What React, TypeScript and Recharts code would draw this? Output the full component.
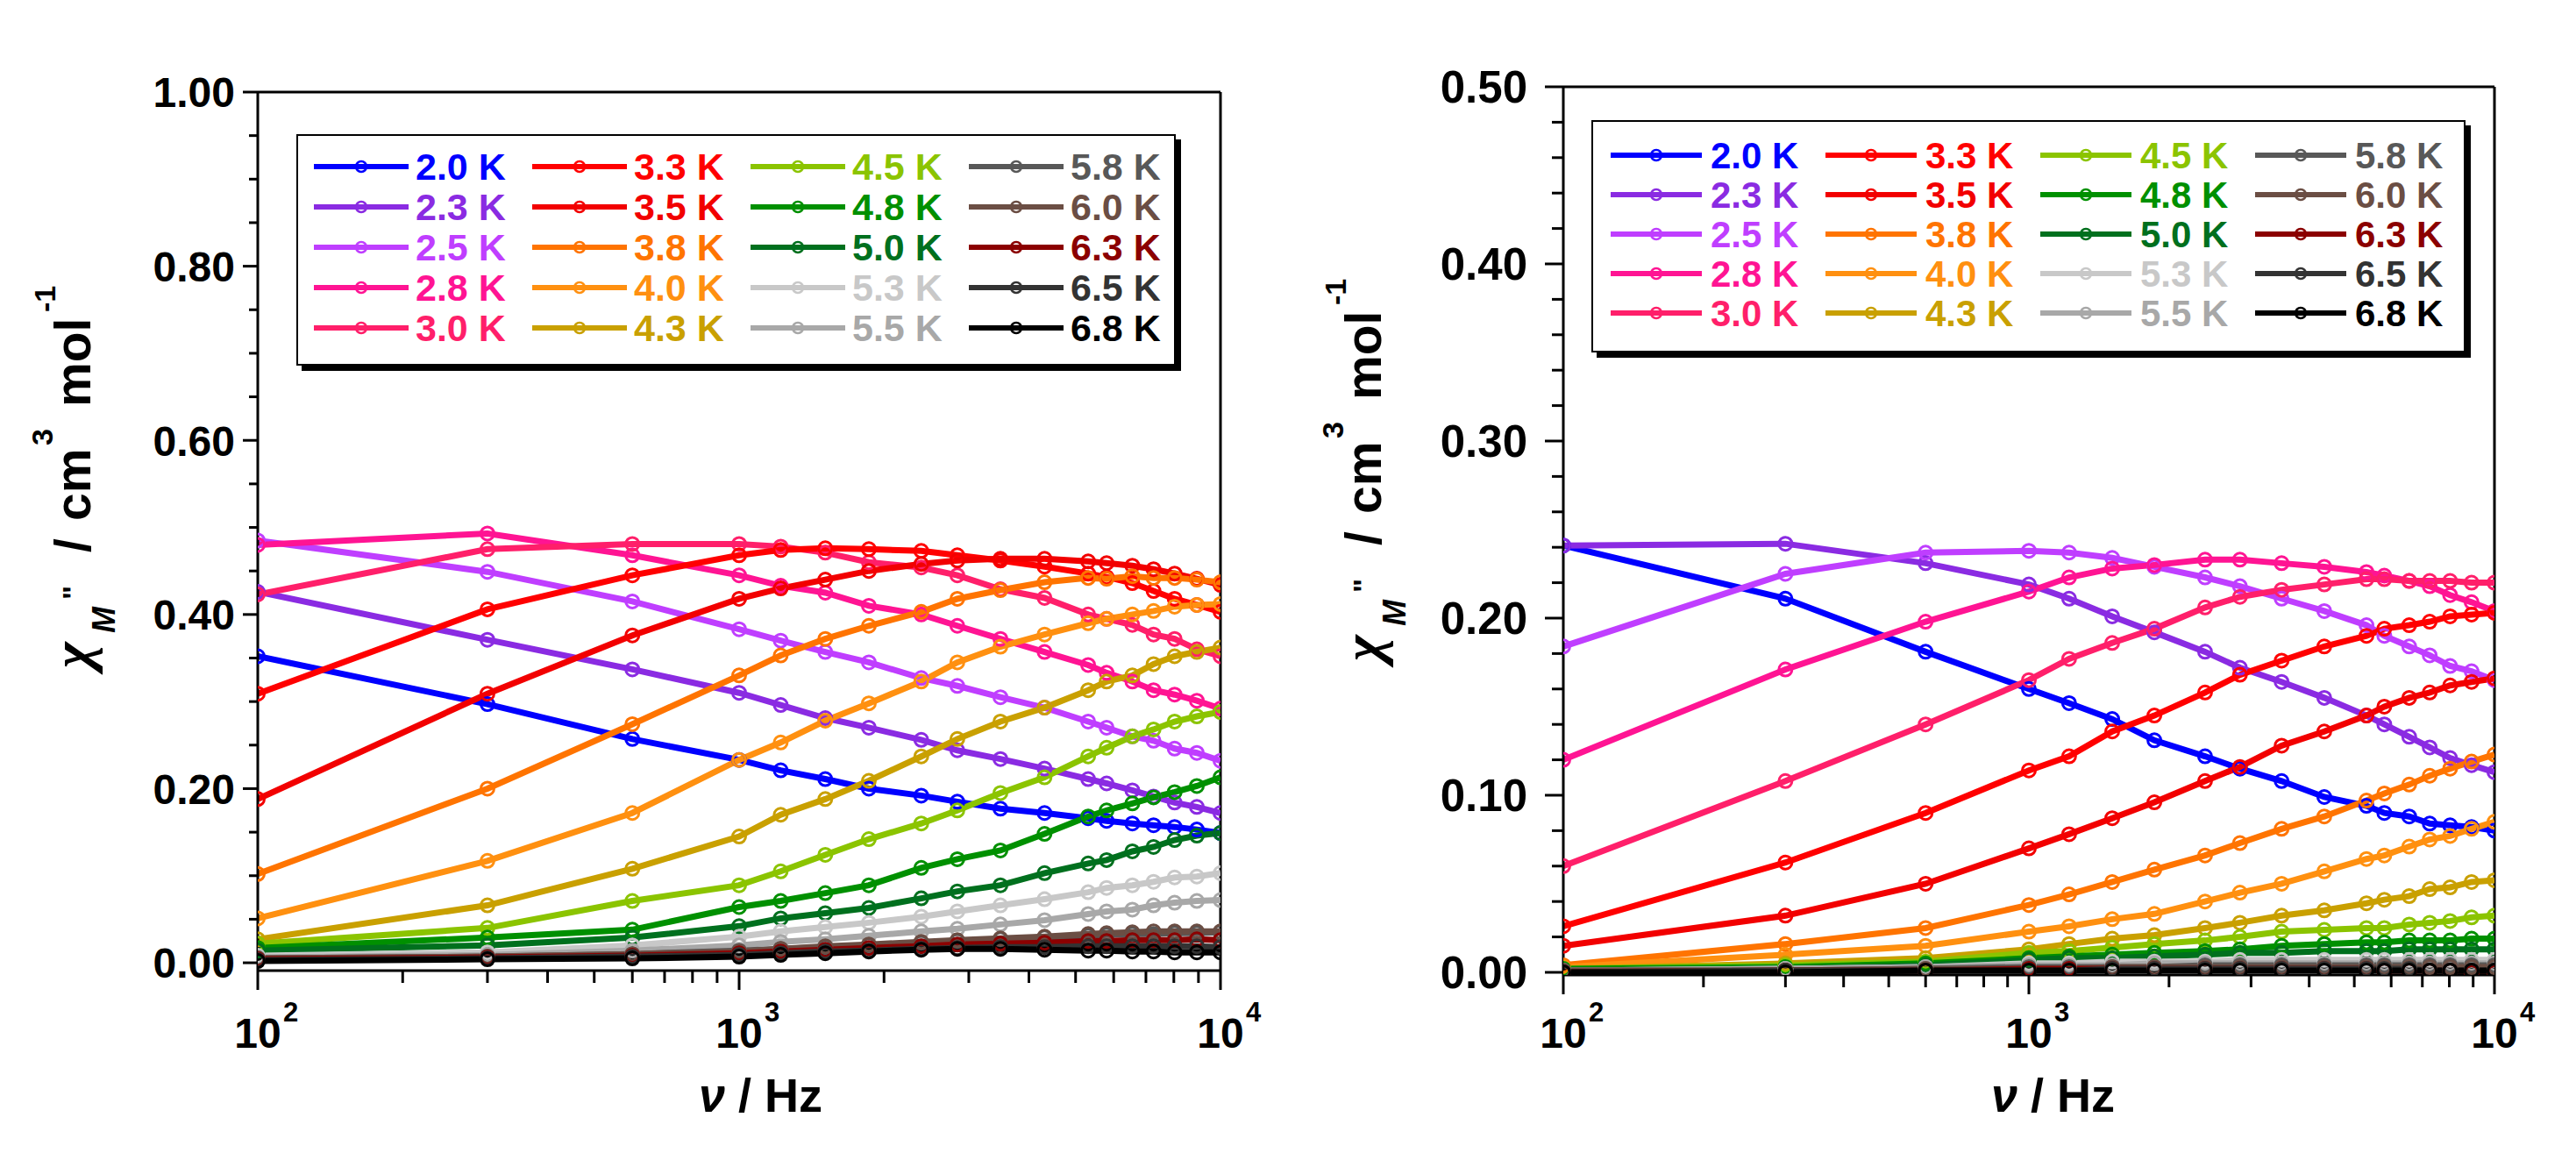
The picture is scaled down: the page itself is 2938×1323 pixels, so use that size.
import React from "react";
import { LineChart, Line, XAxis, YAxis, Legend, ReferenceLine } from "recharts";

// ac frequencies (Hz)
const FREQ = [100, 300, 600, 1000, 1220, 1510, 1860, 2390, 2840, 3490, 4310, 5310, 5800, 6560, 7260, 8030, 8930, 10000];

const TEMPS = [
  "2.0 K", "2.3 K", "2.5 K", "2.8 K", "3.0 K",
  "3.3 K", "3.5 K", "3.8 K", "4.0 K", "4.3 K",
  "4.5 K", "4.8 K", "5.0 K", "5.3 K", "5.5 K",
  "5.8 K", "6.0 K", "6.3 K", "6.5 K", "6.8 K",
];

const COLORS = [
  "#0000ff", "#8a2be2", "#bf3eff", "#ff1493", "#ff1f6a",
  "#ff0000", "#f20000", "#ff7400", "#ff9010", "#c9a000",
  "#8bc400", "#009000", "#00701e", "#c8c8c8", "#a8a8a8",
  "#585858", "#6b4e44", "#8b0000", "#333333", "#000000",
];

// left panel, chi'' (cm3 mol-1)
const L20 = [0.352, 0.297, 0.257, 0.233, 0.221, 0.211, 0.200, 0.192, 0.185, 0.177, 0.172, 0.166, 0.163, 0.160, 0.158, 0.156, 0.153, 0.149];
const L23 = [0.426, 0.371, 0.337, 0.310, 0.296, 0.281, 0.270, 0.256, 0.244, 0.234, 0.223, 0.211, 0.206, 0.198, 0.191, 0.184, 0.179, 0.172];
const L25 = [0.485, 0.449, 0.415, 0.383, 0.370, 0.357, 0.345, 0.327, 0.318, 0.305, 0.293, 0.277, 0.270, 0.260, 0.255, 0.246, 0.241, 0.232];
const L28 = [0.480, 0.493, 0.468, 0.445, 0.433, 0.425, 0.410, 0.400, 0.387, 0.372, 0.357, 0.342, 0.333, 0.323, 0.313, 0.308, 0.301, 0.292];
const L30 = [0.423, 0.475, 0.481, 0.481, 0.478, 0.471, 0.460, 0.454, 0.445, 0.429, 0.419, 0.400, 0.395, 0.388, 0.377, 0.372, 0.360, 0.352];
const L33 = [0.309, 0.406, 0.445, 0.468, 0.474, 0.476, 0.475, 0.473, 0.468, 0.462, 0.455, 0.447, 0.443, 0.436, 0.427, 0.418, 0.411, 0.403];
const L35 = [0.188, 0.309, 0.376, 0.418, 0.430, 0.440, 0.450, 0.458, 0.462, 0.464, 0.464, 0.461, 0.459, 0.456, 0.452, 0.447, 0.441, 0.434];
const L38 = [0.102, 0.200, 0.274, 0.330, 0.353, 0.372, 0.387, 0.403, 0.418, 0.428, 0.437, 0.442, 0.441, 0.444, 0.442, 0.442, 0.440, 0.437];
const L40 = [0.051, 0.117, 0.172, 0.233, 0.253, 0.278, 0.298, 0.323, 0.345, 0.363, 0.377, 0.390, 0.395, 0.400, 0.404, 0.409, 0.411, 0.412];
const L43 = [0.027, 0.066, 0.108, 0.145, 0.170, 0.188, 0.209, 0.237, 0.257, 0.277, 0.293, 0.313, 0.323, 0.330, 0.343, 0.352, 0.357, 0.362];
const L45 = [0.022, 0.040, 0.071, 0.089, 0.105, 0.124, 0.142, 0.160, 0.175, 0.195, 0.213, 0.237, 0.247, 0.260, 0.268, 0.277, 0.283, 0.288];
const L48 = [0.017, 0.029, 0.038, 0.064, 0.071, 0.080, 0.089, 0.109, 0.119, 0.129, 0.148, 0.168, 0.175, 0.183, 0.190, 0.196, 0.203, 0.213];
const L50 = [0.014, 0.020, 0.029, 0.042, 0.051, 0.057, 0.063, 0.074, 0.082, 0.089, 0.103, 0.114, 0.118, 0.128, 0.133, 0.141, 0.146, 0.149];
const L53 = [0.008, 0.012, 0.020, 0.030, 0.036, 0.041, 0.046, 0.053, 0.059, 0.066, 0.073, 0.081, 0.086, 0.089, 0.093, 0.098, 0.099, 0.103];
const L55 = [0.006, 0.009, 0.014, 0.020, 0.024, 0.027, 0.031, 0.036, 0.039, 0.044, 0.049, 0.056, 0.059, 0.061, 0.066, 0.069, 0.071, 0.072];
const L58 = [0.005, 0.007, 0.010, 0.014, 0.016, 0.018, 0.020, 0.023, 0.025, 0.027, 0.029, 0.031, 0.032, 0.033, 0.033, 0.034, 0.034, 0.035];
const L60 = [0.005, 0.007, 0.010, 0.013, 0.016, 0.019, 0.021, 0.024, 0.026, 0.028, 0.030, 0.033, 0.034, 0.035, 0.036, 0.036, 0.036, 0.036];
const L63 = [0.004, 0.006, 0.008, 0.011, 0.013, 0.015, 0.017, 0.019, 0.021, 0.022, 0.023, 0.025, 0.025, 0.026, 0.026, 0.026, 0.027, 0.026];
const L65 = [0.003, 0.005, 0.007, 0.009, 0.011, 0.013, 0.014, 0.016, 0.017, 0.018, 0.018, 0.019, 0.019, 0.019, 0.019, 0.019, 0.019, 0.018];
const L68 = [0.002, 0.004, 0.005, 0.007, 0.009, 0.011, 0.013, 0.015, 0.016, 0.016, 0.015, 0.014, 0.014, 0.013, 0.013, 0.012, 0.012, 0.012];

// right panel
const R20 = [0.241, 0.211, 0.181, 0.160, 0.152, 0.143, 0.131, 0.122, 0.115, 0.108, 0.099, 0.094, 0.090, 0.088, 0.084, 0.083, 0.082, 0.080];
const R23 = [0.241, 0.242, 0.231, 0.219, 0.211, 0.201, 0.192, 0.181, 0.172, 0.164, 0.155, 0.145, 0.140, 0.133, 0.127, 0.121, 0.117, 0.113];
const R25 = [0.184, 0.225, 0.237, 0.238, 0.237, 0.234, 0.229, 0.223, 0.218, 0.211, 0.204, 0.196, 0.190, 0.184, 0.179, 0.173, 0.170, 0.165];
const R28 = [0.120, 0.171, 0.198, 0.215, 0.223, 0.228, 0.230, 0.233, 0.233, 0.231, 0.229, 0.226, 0.224, 0.221, 0.218, 0.213, 0.209, 0.204];
const R30 = [0.060, 0.108, 0.140, 0.165, 0.177, 0.186, 0.194, 0.206, 0.212, 0.216, 0.219, 0.222, 0.222, 0.221, 0.221, 0.221, 0.220, 0.220];
const R33 = [0.026, 0.062, 0.090, 0.114, 0.122, 0.136, 0.145, 0.158, 0.168, 0.176, 0.184, 0.190, 0.194, 0.196, 0.198, 0.201, 0.202, 0.203];
const R35 = [0.015, 0.032, 0.050, 0.070, 0.078, 0.087, 0.096, 0.108, 0.116, 0.128, 0.136, 0.145, 0.150, 0.155, 0.158, 0.162, 0.164, 0.166];
const R38 = [0.004, 0.016, 0.025, 0.038, 0.044, 0.051, 0.058, 0.066, 0.073, 0.081, 0.088, 0.097, 0.101, 0.106, 0.111, 0.115, 0.119, 0.123];
const R40 = [0.003, 0.010, 0.015, 0.023, 0.026, 0.030, 0.033, 0.040, 0.045, 0.050, 0.057, 0.064, 0.066, 0.071, 0.075, 0.077, 0.081, 0.085];
const R43 = [0.002, 0.005, 0.008, 0.013, 0.016, 0.019, 0.021, 0.025, 0.028, 0.032, 0.035, 0.039, 0.041, 0.043, 0.047, 0.048, 0.051, 0.052];
const R45 = [0.002, 0.004, 0.006, 0.011, 0.012, 0.014, 0.016, 0.018, 0.020, 0.023, 0.024, 0.025, 0.025, 0.027, 0.028, 0.029, 0.031, 0.032];
const R48 = [0.002, 0.003, 0.005, 0.008, 0.009, 0.010, 0.011, 0.012, 0.013, 0.015, 0.016, 0.017, 0.017, 0.018, 0.018, 0.018, 0.019, 0.019];
const R50 = [0.001, 0.002, 0.004, 0.007, 0.008, 0.008, 0.009, 0.010, 0.011, 0.011, 0.012, 0.012, 0.012, 0.013, 0.013, 0.013, 0.013, 0.013];
const R53 = [0.001, 0.002, 0.003, 0.005, 0.005, 0.006, 0.006, 0.006, 0.007, 0.007, 0.007, 0.007, 0.007, 0.007, 0.007, 0.007, 0.007, 0.007];
const R55 = [0.001, 0.002, 0.003, 0.004, 0.004, 0.004, 0.005, 0.005, 0.005, 0.005, 0.005, 0.005, 0.005, 0.005, 0.005, 0.005, 0.005, 0.005];
const R58 = [0.001, 0.001, 0.002, 0.003, 0.003, 0.003, 0.003, 0.004, 0.004, 0.004, 0.004, 0.004, 0.004, 0.004, 0.004, 0.004, 0.004, 0.004];
const R60 = [0.001, 0.001, 0.002, 0.002, 0.002, 0.003, 0.003, 0.003, 0.003, 0.003, 0.003, 0.003, 0.003, 0.003, 0.003, 0.003, 0.003, 0.003];
const R63 = [0.000, 0.001, 0.001, 0.002, 0.002, 0.002, 0.002, 0.002, 0.002, 0.002, 0.002, 0.002, 0.001, 0.001, 0.001, 0.001, 0.000, 0.000];
const R65 = [0.000, 0.001, 0.001, 0.001, 0.001, 0.002, 0.002, 0.002, 0.002, 0.002, 0.002, 0.002, 0.002, 0.002, 0.001, 0.001, 0.001, 0.001];
const R68 = [0.000, 0.000, 0.001, 0.001, 0.001, 0.001, 0.001, 0.001, 0.001, 0.001, 0.001, 0.001, 0.001, 0.001, 0.001, 0.001, 0.001, 0.001];

const LEFT = [L20, L23, L25, L28, L30, L33, L35, L38, L40, L43, L45, L48, L50, L53, L55, L58, L60, L63, L65, L68];
const RIGHT = [R20, R23, R25, R28, R30, R33, R35, R38, R40, R43, R45, R48, R50, R53, R55, R58, R60, R63, R65, R68];

// axis ticks
const X_TICKS = [100, 200, 300, 400, 500, 600, 700, 800, 900, 1000, 2000, 3000, 4000, 5000, 6000, 7000, 8000, 9000, 10000];
const X_MAJOR = [100, 1000, 10000];
const LEFT_Y_MAJOR = [0, 0.2, 0.4, 0.6, 0.8, 1.0];
const LEFT_Y_TICKS = [0, 0.05, 0.1, 0.15, 0.2, 0.25, 0.3, 0.35, 0.4, 0.45, 0.5, 0.55, 0.6, 0.65, 0.7, 0.75, 0.8, 0.85, 0.9, 0.95, 1.0];
const RIGHT_Y_MAJOR = [0, 0.1, 0.2, 0.3, 0.4, 0.5];
const RIGHT_Y_TICKS = [0, 0.02, 0.04, 0.06, 0.08, 0.1, 0.12, 0.14, 0.16, 0.18, 0.2, 0.22, 0.24, 0.26, 0.28, 0.3, 0.32, 0.34, 0.36, 0.38, 0.4, 0.42, 0.44, 0.46, 0.48, 0.5];

const FONT = "'Liberation Sans', Arial, Helvetica, sans-serif";

const near = (list: number[], v: number) => list.some((m) => Math.abs(m - v) < 1e-6);

const makeYTick = (major: number[], big: number, small: number, gap: number, fs: number) => (props: any) => {
  const { x, y, payload } = props;
  const v = payload.value;
  const isMajor = near(major, v);
  return (
    <g>
      <line x1={x} x2={x - (isMajor ? big : small)} y1={y} y2={y} stroke="#000" strokeWidth={3} />
      {isMajor && (
        <text x={x - gap} y={y} dy="0.36em" textAnchor="end" fontFamily={FONT} fontWeight="bold" fontSize={fs} fill="#000">
          {v.toFixed(2)}
        </text>
      )}
    </g>
  );
};

const makeXTick = (labelDy: number) => (props: any) => {
  const { x, y, payload } = props;
  const v = payload.value;
  const isMajor = near(X_MAJOR, v);
  const exp = Math.round(Math.log10(v));
  return (
    <g>
      <line x1={x} x2={x} y1={y} y2={y + (isMajor ? 22 : 14)} stroke="#000" strokeWidth={3} />
      {isMajor && (
        <g fontFamily={FONT} fontWeight="bold" fill="#000">
          <text x={x} y={y + labelDy} textAnchor="middle" fontSize={48}>10</text>
          <text x={x + 29} y={y + labelDy - 30} textAnchor="start" fontSize={31}>{exp}</text>
        </g>
      )}
    </g>
  );
};

const makeYTitle = (bx: number, shift: number) => () => (
  <text transform="rotate(-90)" fontFamily={FONT} fontWeight="bold" fill="#000">
    <tspan x={-(762 + shift)} y={bx} fontFamily="'Liberation Serif', 'DejaVu Serif', serif" fontStyle="italic" fontSize={64}>χ</tspan>
    <tspan x={-(722 + shift)} y={bx + 28} fontStyle="italic" fontSize={36}>M</tspan>
    <tspan x={-(684 + shift)} y={bx - 8} fontSize={34}>"</tspan>
    <tspan x={-(630 + shift)} y={bx} fontSize={57}>/</tspan>
    <tspan x={-(594 + shift)} y={bx} fontSize={57}>cm</tspan>
    <tspan x={-(508 + shift)} y={bx - 43} fontSize={34}>3</tspan>
    <tspan x={-(464 + shift)} y={bx} fontSize={57}>mol</tspan>
    <tspan x={-(356 + shift)} y={bx - 40} fontSize={34}>-1</tspan>
  </text>
);

const makeXTitle = (sx: number) => () => (
  <text x={sx} y={1268} fontFamily={FONT} fontWeight="bold" fontSize={54} fill="#000">
    <tspan fontStyle="italic">ν</tspan>
    <tspan> / Hz</tspan>
  </text>
);

type LegendCfg = { w: number; h: number; x0: number; y0: number; dx: number; dy: number; len: number; tx: number; fs: number };

const makeLegend = (c: LegendCfg) => () => (
  <svg width={c.w + 8} height={c.h + 8} style={{ display: "block" }}>
    <rect x={6} y={6} width={c.w} height={c.h} fill="#000" />
    <rect x={1} y={1} width={c.w - 2} height={c.h - 2} fill="#fff" stroke="#000" strokeWidth={2} />
    {TEMPS.map((t, i) => {
      const col = Math.floor(i / 5);
      const row = i % 5;
      const lx = c.x0 + col * c.dx;
      const cy = c.y0 + row * c.dy;
      return (
        <g key={t}>
          <line x1={lx} x2={lx + c.len} y1={cy} y2={cy} stroke={COLORS[i]} strokeWidth={6} />
          <circle cx={lx + c.len / 2} cy={cy} r={6} fill="none" stroke={COLORS[i]} strokeWidth={2.5} />
          <text x={lx + c.tx} y={cy} dy="0.36em" fontFamily={FONT} fontWeight="bold" fontSize={c.fs} fill={COLORS[i]}>
            {t}
          </text>
        </g>
      );
    })}
  </svg>
);

type PanelProps = {
  left: number;
  width: number;
  top: number;
  right: number;
  yAxisW: number;
  xAxisH: number;
  yDomain: [number, number];
  yTicks: number[];
  yMajor: number[];
  tickBig: number;
  tickSmall: number;
  labelGap: number;
  tickFs: number;
  xLabelDy: number;
  yTitleX: number;
  yTitleShift: number;
  xTitleX: number;
  legendPos: { left: number; top: number };
  legend: LegendCfg;
  series: number[][];
};

const Panel = (p: PanelProps) => {
  const rows = FREQ.map((f, i) => {
    const r: Record<string, number> = { f };
    p.series.forEach((s, k) => {
      r["t" + k] = s[i];
    });
    return r;
  });
  return (
    <div style={{ position: "absolute", left: p.left, top: 0 }}>
      <LineChart width={p.width} height={1323} data={rows} margin={{ top: p.top, right: p.right, bottom: 0, left: 0 }}>
        <XAxis
          dataKey="f"
          type="number"
          scale="log"
          domain={[100, 10000]}
          allowDataOverflow
          ticks={X_TICKS}
          interval={0}
          tickSize={0}
          tickMargin={0}
          tickLine={false}
          axisLine={{ stroke: "#000", strokeWidth: 3 }}
          height={p.xAxisH}
          tick={makeXTick(p.xLabelDy)}
          label={{ content: makeXTitle(p.xTitleX) }}
        />
        <YAxis
          type="number"
          domain={p.yDomain}
          allowDataOverflow
          ticks={p.yTicks}
          interval={0}
          tickSize={0}
          tickMargin={0}
          tickLine={false}
          axisLine={{ stroke: "#000", strokeWidth: 3 }}
          width={p.yAxisW}
          tick={makeYTick(p.yMajor, p.tickBig, p.tickSmall, p.labelGap, p.tickFs)}
          label={{ content: makeYTitle(p.yTitleX, p.yTitleShift) }}
        />
        <ReferenceLine y={p.yDomain[1]} stroke="#000" strokeWidth={3} />
        <ReferenceLine x={10000} stroke="#000" strokeWidth={3} />
        {TEMPS.map((t, k) => (
          <Line
            key={t}
            dataKey={"t" + k}
            name={t}
            type="linear"
            stroke={COLORS[k]}
            strokeWidth={7}
            dot={{ r: 7.5, fill: "none", stroke: COLORS[k], strokeWidth: 3 }}
            activeDot={false}
            isAnimationActive={false}
          />
        ))}
        <Legend
          layout="horizontal"
          verticalAlign="middle"
          align="center"
          content={makeLegend(p.legend)}
          wrapperStyle={{ left: p.legendPos.left, top: p.legendPos.top, width: p.legend.w + 8, height: p.legend.h + 8 }}
        />
      </LineChart>
    </div>
  );
};

export default function App() {
  return (
    <div style={{ position: "absolute", left: 0, top: 0, width: 2938, height: 1323, background: "#fff", overflow: "hidden" }}>
      <Panel
        left={0}
        width={1450}
        top={105}
        right={58}
        yAxisW={294}
        xAxisH={216}
        yDomain={[-0.009, 1.0]}
        yTicks={LEFT_Y_TICKS}
        yMajor={LEFT_Y_MAJOR}
        tickBig={17}
        tickSmall={10}
        labelGap={26}
        tickFs={48}
        xLabelDy={88}
        yTitleX={103}
        yTitleShift={0}
        xTitleX={797}
        legendPos={{ left: 338, top: 153 }}
        legend={{ w: 1003, h: 264, x0: 20, y0: 37, dx: 249, dy: 46, len: 108, tx: 116, fs: 43 }}
        series={LEFT}
      />
      <Panel
        left={1450}
        width={1488}
        top={99}
        right={93}
        yAxisW={333}
        xAxisH={211}
        yDomain={[-0.0015, 0.5]}
        yTicks={RIGHT_Y_TICKS}
        yMajor={RIGHT_Y_MAJOR}
        tickBig={21}
        tickSmall={13}
        labelGap={41}
        tickFs={51}
        xLabelDy={83}
        yTitleX={125}
        yTitleShift={-8}
        xTitleX={821}
        legendPos={{ left: 365, top: 137 }}
        legend={{ w: 997, h: 265, x0: 22, y0: 40, dx: 245, dy: 45, len: 104, tx: 114, fs: 42 }}
        series={RIGHT}
      />
    </div>
  );
}
